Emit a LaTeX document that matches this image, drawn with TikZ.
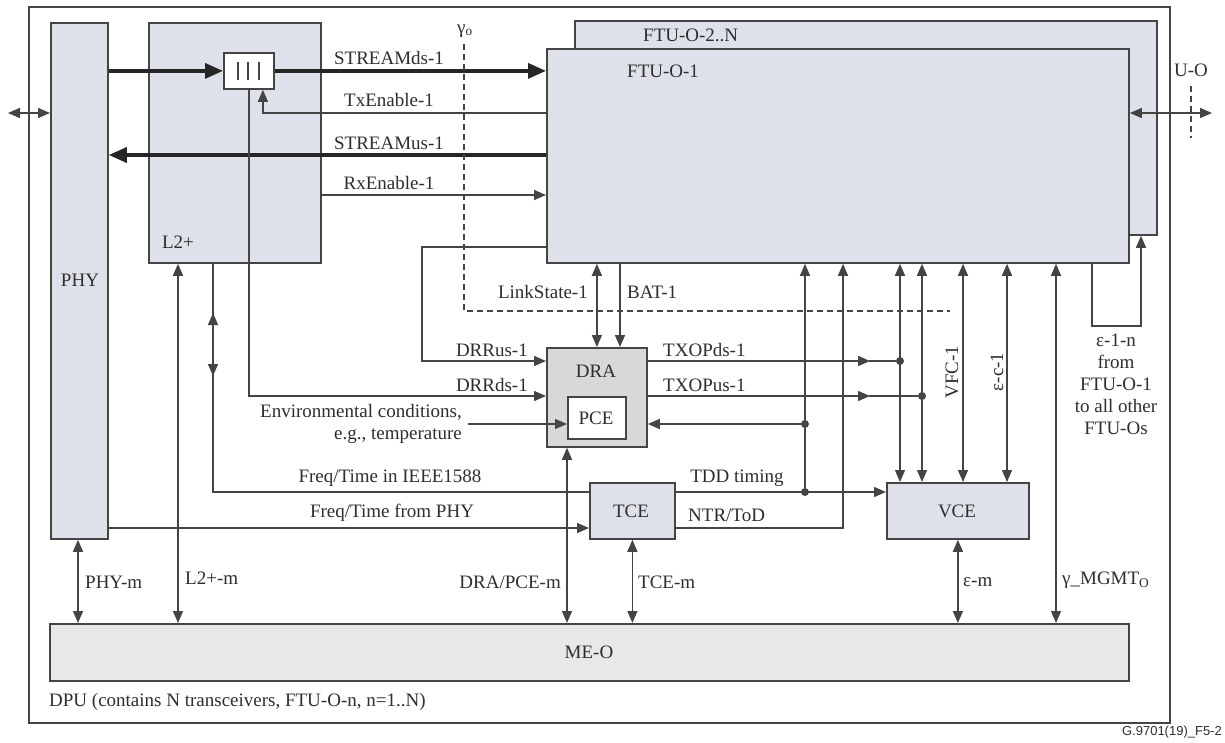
\documentclass[tikz,border=0pt]{standalone}
\usepackage{fontspec}
\setmainfont{Liberation Serif}
\newfontfamily\figsans{Liberation Sans}
\usetikzlibrary{arrows.meta,calc}
\definecolor{ln}{HTML}{444444}
\definecolor{bx}{HTML}{DEE1E9}
\definecolor{drafill}{HTML}{D8D8D8}
\definecolor{mefill}{HTML}{E8E8E8}
\definecolor{tx}{HTML}{2E2E2E}
\begin{document}
\begin{tikzpicture}[x=1pt,y=-1pt,
  every node/.style={font=\fontsize{19}{22}\selectfont, text=tx},
  box/.style={draw=ln, line width=1.8pt, fill=bx, anchor=north west, inner sep=0pt},
  con/.style={draw=ln, line width=1.4pt},
  arr/.style={con, -{Triangle[length=12pt,width=10pt]}},
  darr/.style={con, {Triangle[length=12pt,width=10pt]}-{Triangle[length=12pt,width=10pt]}},
  bigarr/.style={draw=black!85, line width=3.4pt, -{Triangle[length=18pt,width=15pt]}},
  lbl/.style={inner sep=0pt},
  dot/.style={circle, fill=ln, inner sep=0pt, minimum size=8pt},
  gdash/.style={draw=ln, line width=1.4pt, dash pattern=on 6pt off 4pt},
]
\useasboundingbox (0,0) rectangle (1225,742);
\fill[white] (0,0) rectangle (1225,742);

% boxes
\node[box, fill=white, minimum width=1141pt, minimum height=716pt] (dpu) at (28,6) {};
\node[box, minimum width=57pt, minimum height=516pt] (phy) at (50,22) {};
\node[box, minimum width=172pt, minimum height=240pt] (l2) at (148,22) {};
\node[box, fill=white, minimum width=50pt, minimum height=36pt] (mux) at (223,52) {};
\node[box, minimum width=582pt, minimum height=214pt] (ftu2) at (574,20) {};
\node[box, minimum width=582pt, minimum height=214pt] (ftu1) at (546,48) {};
\node[box, fill=drafill, minimum width=100pt, minimum height=99pt] (dra) at (546,347) {};
\node[box, fill=white, minimum width=58pt, minimum height=42pt] (pce) at (567,396) {};
\node[box, minimum width=85pt, minimum height=56pt] (tce) at (589,482) {};
\node[box, minimum width=142pt, minimum height=56pt] (vce) at (886,482) {};
\node[box, fill=mefill, minimum width=1079pt, minimum height=57pt] (meo) at (49,623) {};

% mux bars
\draw[draw=ln, line width=1.8pt] (238,62) -- (238,80) (248,62) -- (248,80) (259,62) -- (259,80);

% box labels
\node[lbl] (tphy) at (80,280) {PHY};
\node[lbl] (tl2) at (178,242) {L2+};
\node[lbl, anchor=west] (tftu2) at (643,35) {FTU-O-2..N};
\node[lbl, anchor=west] (tftu1) at (627,71) {FTU-O-1};
\node[lbl] (tdra) at (596,371) {DRA};
\node[lbl] (tpce) at (596,418) {PCE};
\node[lbl] (ttce) at (631,511) {TCE};
\node[lbl] (tvce) at (957,511) {VCE};
\node[lbl] (tmeo) at (589,652) {ME-O};
\node[lbl, anchor=west] (tdpu) at (49,702) {DPU (contains N transceivers, FTU-O-n, n=1..N)};
\node[lbl, anchor=east, font=\figsans\fontsize{13}{15}\selectfont] (tfig) at (1222,732) {G.9701(19)\_F5-2};

% reference points
\coordinate (lext) at (8,113);
\coordinate (uext) at (1212,113);
\coordinate (env) at (468,424);
\node[dot] (d1) at (900,361) {};
\node[dot] (d2) at (922,396) {};
\node[dot] (d3) at (805,424) {};
\node[dot] (d4) at (805,492) {};

% external interfaces
\draw[darr] (lext) -- (phy.west |- lext);
\draw[darr] (ftu1.east |- uext) -- (uext);
\draw[gdash] (1191,86) -- (1191,138);
\node[lbl] (tuo) at (1191,70) {U-O};

% streams
\draw[bigarr] (phy.east |- mux.west) -- (mux.west);
\draw[bigarr] (mux.east) -- (ftu1.west |- mux.east);
\draw[arr] (ftu1.west |- 0,113) -| ($(mux.south)+(14,0)$);
\draw[bigarr] (ftu1.west |- 0,155) -- (phy.east |- 0,155);
\draw[arr] (l2.east |- 0,195) -- (ftu1.west |- 0,195);
\node[lbl] at (389,58) {STREAMds-1};
\node[lbl] at (389,100) {TxEnable-1};
\node[lbl] at (389,143) {STREAMus-1};
\node[lbl] at (389,183) {RxEnable-1};

% gamma_o reference line
\draw[gdash] (464,44) -- (464,311) -- (950,311);
\node[lbl] at (465,31) {γ\textsubscript{o}};

% DRR
\draw[arr] (ftu1.west |- 0,247) -- (422,247) -- (422,361) -- (dra.west |- 0,361);
\draw[arr] (mux.south) |- (dra.west |- 0,396);
\node[lbl, anchor=east] at (528,350) {DRRus-1};
\node[lbl, anchor=east] at (528,385) {DRRds-1};
\draw[arr] (env) -- (pce.west |- env);
\node[lbl, anchor=east, align=right] at (462,424) {Environmental conditions,\\e.g., temperature};

% LinkState / BAT
\draw[darr] (dra.north |- ftu1.south) -- (dra.north);
\draw[arr] (ftu1.south -| 620,0) -- (dra.north -| 620,0);
\node[lbl, anchor=east] at (588,292) {LinkState-1};
\node[lbl, anchor=west] at (627,292) {BAT-1};

% TXOP
\draw[arr] (dra.east |- d1) -- ($(d1)+(-30,0)$);
\draw[con] ($(d1)+(-31,0)$) -- (d1);
\draw[arr] (dra.east |- d2) -- ($(d2)+(-52,0)$);
\draw[con] ($(d2)+(-53,0)$) -- (d2);
\node[lbl, anchor=west] at (663,350) {TXOPds-1};
\node[lbl, anchor=west] at (663,385) {TXOPus-1};
\draw[arr] (d3) -- (dra.east |- d3);

% timing
\draw[con] (l2.south -| 213,0) -- (213,492) -- (tce.west |- 0,492);
\draw[darr] (213,313) -- (213,376);
\draw[arr] (phy.east |- 0,528) -- (tce.west |- 0,528);
\node[lbl] at (390,478) {Freq/Time in IEEE1588};
\node[lbl] at (392,513) {Freq/Time from PHY};
\draw[arr] (tce.east |- d4) -- (vce.west |- d4);
\draw[arr] (d4) -- (ftu1.south -| d4);
\draw[arr] (tce.east |- 0,528) -| (ftu1.south -| 843,0);
\node[lbl] at (737,478) {TDD timing};
\node[lbl, anchor=west] at (688,515) {NTR/ToD};

% FTU <-> VCE
\draw[darr] (ftu1.south -| d1) -- (vce.north -| d1);
\draw[darr] (ftu1.south -| d2) -- (vce.north -| d2);
\draw[darr] (ftu1.south -| 963,0) -- (vce.north -| 963,0);
\draw[darr] (ftu1.south -| 1007,0) -- (vce.north -| 1007,0);
\node[lbl, rotate=90] at (952,372) {VFC-1};
\node[lbl, rotate=90] at (997,372) {ε-c-1};

% epsilon-1-n loop
\draw[arr] (ftu1.south -| 1092,0) -- (1092,326) -- (1141,326) -- (ftu2.south -| 1141,0);
\node[lbl, align=center] at (1116,384) {ε-1-n\\from\\FTU-O-1\\to all other\\FTU-Os};

% management
\draw[darr] (phy.south -| 78,0) -- (meo.north -| 78,0);
\draw[darr] (l2.south -| 178,0) -- (meo.north -| 178,0);
\draw[darr] (meo.north -| 567,0) -- (dra.south -| 567,0);
\draw[darr] (tce.south) -- (tce.south |- meo.north);
\draw[darr] (vce.south) -- (vce.south |- meo.north);
\draw[darr] (ftu1.south -| 1056,0) -- (meo.north -| 1056,0);
\node[lbl, anchor=west] at (85,582) {PHY-m};
\node[lbl, anchor=west] at (185,578) {L2+-m};
\node[lbl, anchor=east] at (561,582) {DRA/PCE-m};
\node[lbl, anchor=west] at (638,582) {TCE-m};
\node[lbl, anchor=west] at (963,582) {ε-m};
\node[lbl, anchor=west] at (1062,580) {γ\_MGMT\textsubscript{O}};
\end{tikzpicture}
\end{document}
